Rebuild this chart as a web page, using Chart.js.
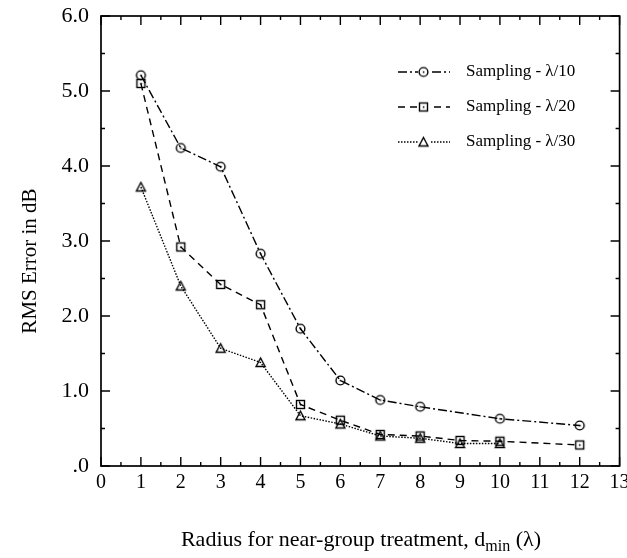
<!DOCTYPE html>
<html>
<head>
<meta charset="utf-8">
<script src="https://cdn.jsdelivr.net/npm/chart.js@4"></script>
<style>
 html, body { margin: 0; padding: 0; background: #fff; }
 #wrap { width: 627px; height: 558px; }
</style>
</head>
<body>
<div id="wrap"><canvas id="rmsChart"></canvas></div>
<script>
// データ
const seriesLabels = ["Sampling - λ/10", "Sampling - λ/20", "Sampling - λ/30"];
const lambda10X = [1, 2, 3, 4, 5, 6, 7, 8, 10, 12];
const lambda10Y = [5.21, 4.24, 3.99, 2.83, 1.83, 1.14, 0.88, 0.79, 0.63, 0.54];
const lambda20X = [1, 2, 3, 4, 5, 6, 7, 8, 9, 10, 12];
const lambda20Y = [5.10, 2.92, 2.42, 2.15, 0.82, 0.61, 0.42, 0.40, 0.34, 0.33, 0.28];
const lambda30X = [1, 2, 3, 4, 5, 6, 7, 8, 9, 10];
const lambda30Y = [3.72, 2.40, 1.57, 1.38, 0.67, 0.56, 0.40, 0.37, 0.30, 0.30];
const xTicks = [0, 1, 2, 3, 4, 5, 6, 7, 8, 9, 10, 11, 12, 13];
const yTicks = [0, 1, 2, 3, 4, 5, 6];

const FONT = "'Liberation Serif', 'DejaVu Serif', serif";

// マーカー画像
function makeMarker(kind) {
 const c = document.createElement("canvas");
 c.width = 13; c.height = 13;
 const g = c.getContext("2d");
 g.strokeStyle = "#000";
 g.fillStyle = "#000";
 g.lineWidth = 1.4;
 if (kind === "circle") {
  g.beginPath(); g.arc(6.5, 6.5, 4.4, 0, Math.PI * 2); g.stroke();
  g.fillRect(5.8, 5.8, 1.6, 1.6);
 } else if (kind === "square") {
  g.strokeRect(2.5, 2.5, 8, 8);
  g.fillRect(5.8, 5.8, 1.6, 1.6);
 } else {
  g.beginPath(); g.moveTo(6.5, 2); g.lineTo(11, 10.5); g.lineTo(2, 10.5); g.closePath(); g.stroke();
 }
 return c;
}
const markers = [makeMarker("circle"), makeMarker("square"), makeMarker("triangle")];
const dashes = [[9, 3, 2, 3], [7, 5], [1.5, 1.5]];
const xs = [lambda10X, lambda20X, lambda30X];
const ys = [lambda10Y, lambda20Y, lambda30Y];

const datasets = seriesLabels.map((label, i) => ({
 label: label,
 data: xs[i].map((x, j) => ({ x: x, y: ys[i][j] })),
 showLine: true,
 borderColor: "#000",
 backgroundColor: "#000",
 borderWidth: 1.4,
 borderDash: dashes[i],
 pointStyle: markers[i],
 pointRadius: 6,
 pointHoverRadius: 6
}));

// 枠・内向きの目盛り・凡例・軸タイトル
const framePlugin = {
 id: "frame",
 afterDraw(chart) {
  const ctx = chart.ctx;
  const a = chart.chartArea;
  const xs_ = chart.scales.x, ys_ = chart.scales.y;
  ctx.save();
  ctx.strokeStyle = "#000";
  ctx.lineWidth = 1.7;
  ctx.setLineDash([]);
  ctx.strokeRect(a.left, a.top, a.right - a.left, a.bottom - a.top);
  ctx.lineWidth = 1.4;
  ctx.beginPath();
  for (let v = 0; v <= 13; v += 0.5) {
   const p = xs_.getPixelForValue(v);
   const len = Number.isInteger(v) ? 9 : 4;
   ctx.moveTo(p, a.bottom); ctx.lineTo(p, a.bottom - len);
   ctx.moveTo(p, a.top); ctx.lineTo(p, a.top + len);
  }
  for (let v = 0; v <= 6; v += 0.5) {
   const p = ys_.getPixelForValue(v);
   const len = Number.isInteger(v) ? 9 : 4;
   ctx.moveTo(a.left, p); ctx.lineTo(a.left + len, p);
   ctx.moveTo(a.right, p); ctx.lineTo(a.right - len, p);
  }
  ctx.stroke();

  // 凡例
  chart.data.datasets.forEach((ds, i) => {
   const y = 72 + 35 * i;
   ctx.lineWidth = 1.4;
   ctx.setLineDash(ds.borderDash);
   ctx.beginPath(); ctx.moveTo(398, y); ctx.lineTo(450, y); ctx.stroke();
   ctx.setLineDash([]);
   ctx.fillStyle = "#fff";
   ctx.fillRect(418, y - 6, 12, 12);
   ctx.drawImage(markers[i], 417, y - 6.5);
   ctx.fillStyle = "#000";
   ctx.font = "17px " + FONT;
   ctx.textAlign = "left";
   ctx.textBaseline = "middle";
   ctx.fillText(ds.label, 466, y);
  });

  // y軸タイトル
  ctx.fillStyle = "#000";
  ctx.save();
  ctx.translate(30, 261);
  ctx.rotate(-Math.PI / 2);
  ctx.font = "21px " + FONT;
  ctx.textAlign = "center";
  ctx.textBaseline = "middle";
  ctx.fillText("RMS Error in dB", 0, 0);
  ctx.restore();

  // x軸タイトル（添字つき）
  const p1 = "Radius for near-group treatment, d", sub = "min", p2 = " (λ)";
  ctx.textBaseline = "alphabetic";
  ctx.textAlign = "left";
  ctx.font = "22px " + FONT;
  const w1 = ctx.measureText(p1).width, w3 = ctx.measureText(p2).width;
  ctx.font = "16px " + FONT;
  const w2 = ctx.measureText(sub).width;
  let x = 361 - (w1 + w2 + w3) / 2;
  const base = 546;
  ctx.font = "22px " + FONT;
  ctx.fillText(p1, x, base); x += w1;
  ctx.font = "16px " + FONT;
  ctx.fillText(sub, x, base + 5); x += w2;
  ctx.font = "22px " + FONT;
  ctx.fillText(p2, x, base);
  ctx.restore();
 }
};

const config = {
 type: "scatter",
 data: { datasets: datasets },
 options: {
  responsive: true,
  maintainAspectRatio: false,
  animation: false,
  layout: { padding: { top: 16, right: 5, left: 0, bottom: 0 } },
  plugins: { legend: { display: false }, tooltip: { enabled: false } },
  scales: {
   x: {
    type: "linear",
    min: 0,
    max: 13,
    afterBuildTicks: s => { s.ticks = xTicks.map(v => ({ value: v })); },
    ticks: { color: "#000", font: { family: FONT, size: 20 }, padding: 5, maxRotation: 0, autoSkip: false },
    grid: { display: false, drawTicks: false },
    border: { display: false },
    afterFit: s => { s.height = 92; s.paddingLeft = 0; s.paddingRight = 0; }
   },
   y: {
    min: 0,
    max: 6,
    afterBuildTicks: s => { s.ticks = yTicks.map(v => ({ value: v })); },
    ticks: {
     color: "#000",
     font: { family: FONT, size: 22 },
     padding: 12,
     callback: v => v === 0 ? ".0" : v.toFixed(1)
    },
    grid: { display: false, drawTicks: false },
    border: { display: false },
    afterFit: s => { s.width = 101; s.paddingTop = 0; s.paddingBottom = 0; }
   }
  }
 },
 plugins: [framePlugin]
};

const rmsChart = new Chart(document.getElementById("rmsChart"), config);
</script>
</body>
</html>
